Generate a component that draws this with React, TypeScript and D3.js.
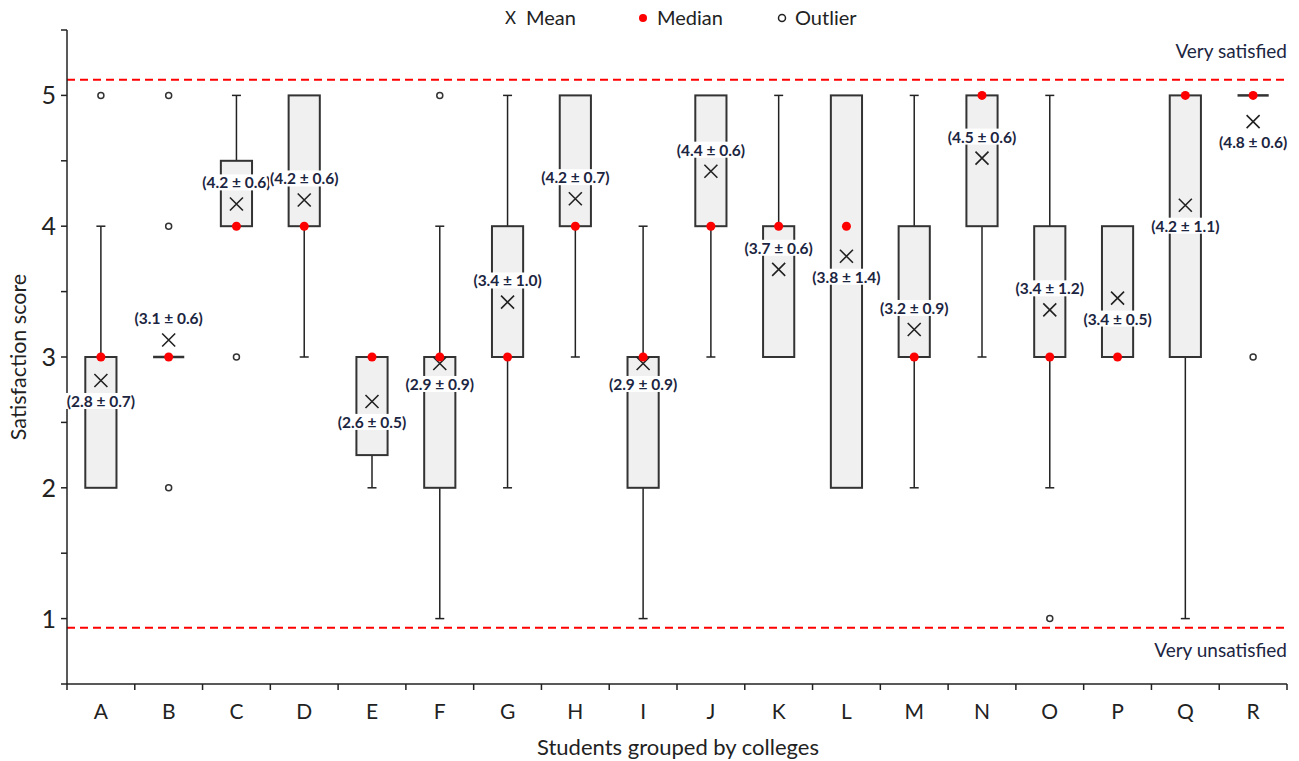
import React, { useRef, useLayoutEffect } from 'react';
import * as d3 from 'd3';

// colleges
const colleges = ['A', 'B', 'C', 'D', 'E', 'F', 'G', 'H', 'I', 'J', 'K', 'L', 'M', 'N', 'O', 'P', 'Q', 'R'];
// box stats per college
const whiskerLow = [2, 3, 4, 3, 2, 1, 2, 3, 1, 3, 3, 2, 2, 3, 2, 3, 1, 5];
const q1 = [2, 3, 4, 4, 2.25, 2, 3, 4, 2, 4, 3, 2, 3, 4, 3, 3, 3, 5];
const medians = [3, 3, 4, 4, 3, 3, 3, 4, 3, 4, 4, 4, 3, 5, 3, 3, 5, 5];
const q3 = [3, 3, 4.5, 5, 3, 3, 4, 5, 3, 5, 4, 5, 4, 5, 4, 4, 5, 5];
const whiskerHigh = [4, 3, 5, 5, 3, 4, 5, 5, 4, 5, 5, 5, 5, 5, 5, 4, 5, 5];
const means = [2.82, 3.13, 4.17, 4.2, 2.66, 2.95, 3.42, 4.21, 2.95, 4.42, 3.67, 3.77, 3.21, 4.52, 3.36, 3.45, 4.16, 4.8];
const meanLabels = ['2.8 ± 0.7', '3.1 ± 0.6', '4.2 ± 0.6', '4.2 ± 0.6', '2.6 ± 0.5', '2.9 ± 0.9', '3.4 ± 1.0', '4.2 ± 0.7', '2.9 ± 0.9',
    '4.4 ± 0.6', '3.7 ± 0.6', '3.8 ± 1.4', '3.2 ± 0.9', '4.5 ± 0.6', '3.4 ± 1.2', '3.4 ± 0.5', '4.2 ± 1.1', '4.8 ± 0.6'];
const labelSide = ['below', 'above', 'above', 'above', 'below', 'below', 'above', 'above', 'below',
    'above', 'above', 'below', 'above', 'above', 'above', 'below', 'below', 'below'];
const outliers = [[5], [5, 4, 2], [3], [], [], [5], [], [], [], [], [], [], [], [], [1], [], [], [3]];
// reference lines
const verySatisfied = 5.12;
const veryUnsatisfied = 0.93;
const yTicks = [0.5, 1, 1.5, 2, 2.5, 3, 3.5, 4, 4.5, 5, 5.5];

const FONT = 'Lato, "Open Sans", sans-serif';

const App = () => {
    const ref = useRef(null);

    useLayoutEffect(() => {
        document.body.style.margin = '0';
        const svg = d3.select(ref.current);
        svg.selectAll('*').remove();

        const left = 67, right = 1287, top = 30, bottom = 684;
        const x = d3.scaleBand().domain(colleges).range([left, right]).padding(0);
        const y = d3.scaleLinear().domain([0.5, 5.5]).range([bottom, top]);
        const boxW = x.bandwidth() * 0.46;
        const capW = 9;
        const ink = '#222';

        // reference lines
        [verySatisfied, veryUnsatisfied].forEach(v => {
            svg.append('line')
                .attr('x1', left).attr('x2', right)
                .attr('y1', y(v)).attr('y2', y(v))
                .attr('stroke', '#f00').attr('stroke-width', 2)
                .attr('stroke-dasharray', '8,5');
        });
        svg.append('text').attr('x', right).attr('y', y(verySatisfied) - 22)
            .attr('text-anchor', 'end').attr('font-family', FONT).attr('font-size', 19)
            .attr('fill', '#1c2541').text('Very satisfied');
        svg.append('text').attr('x', right).attr('y', y(veryUnsatisfied) + 29)
            .attr('text-anchor', 'end').attr('font-family', FONT).attr('font-size', 19)
            .attr('fill', '#1c2541').text('Very unsatisfied');

        // axes
        svg.append('line').attr('x1', left).attr('x2', left).attr('y1', top).attr('y2', bottom)
            .attr('stroke', ink).attr('stroke-width', 1.5);
        svg.append('line').attr('x1', left).attr('x2', right).attr('y1', bottom).attr('y2', bottom)
            .attr('stroke', ink).attr('stroke-width', 1.5);
        yTicks.forEach(t => {
            svg.append('line').attr('x1', left - 6).attr('x2', left).attr('y1', y(t)).attr('y2', y(t))
                .attr('stroke', ink).attr('stroke-width', 1.5);
            if (Number.isInteger(t)) {
                svg.append('text').attr('x', left - 11).attr('y', y(t)).attr('dy', '0.36em')
                    .attr('text-anchor', 'end').attr('font-family', FONT).attr('font-size', 25)
                    .attr('fill', ink).text(t);
            }
        });
        const bounds = colleges.map(c => x(c)).concat([right]);
        bounds.forEach(b => {
            svg.append('line').attr('x1', b).attr('x2', b).attr('y1', bottom).attr('y2', bottom + 6)
                .attr('stroke', ink).attr('stroke-width', 1.5);
        });
        colleges.forEach(c => {
            svg.append('text').attr('x', x(c) + x.bandwidth() / 2).attr('y', bottom + 35)
                .attr('text-anchor', 'middle').attr('font-family', FONT).attr('font-size', 21)
                .attr('fill', ink).text(c);
        });

        // axis titles
        svg.append('text').attr('x', 678).attr('y', 755)
            .attr('text-anchor', 'middle').attr('font-family', FONT).attr('font-size', 22)
            .attr('fill', ink).text('Students grouped by colleges');
        svg.append('text').attr('transform', `translate(26,${(top + bottom) / 2}) rotate(-90)`)
            .attr('text-anchor', 'middle').attr('font-family', FONT).attr('font-size', 21.5)
            .attr('fill', ink).text('Satisfaction score');

        // boxes
        colleges.forEach((c, i) => {
            const cx = x(c) + x.bandwidth() / 2;
            const g = svg.append('g');
            // whiskers
            if (whiskerHigh[i] > q3[i]) {
                g.append('line').attr('x1', cx).attr('x2', cx).attr('y1', y(q3[i])).attr('y2', y(whiskerHigh[i]))
                    .attr('stroke', ink).attr('stroke-width', 1.5);
                g.append('line').attr('x1', cx - capW / 2).attr('x2', cx + capW / 2)
                    .attr('y1', y(whiskerHigh[i])).attr('y2', y(whiskerHigh[i]))
                    .attr('stroke', ink).attr('stroke-width', 1.5);
            }
            if (whiskerLow[i] < q1[i]) {
                g.append('line').attr('x1', cx).attr('x2', cx).attr('y1', y(q1[i])).attr('y2', y(whiskerLow[i]))
                    .attr('stroke', ink).attr('stroke-width', 1.5);
                g.append('line').attr('x1', cx - capW / 2).attr('x2', cx + capW / 2)
                    .attr('y1', y(whiskerLow[i])).attr('y2', y(whiskerLow[i]))
                    .attr('stroke', ink).attr('stroke-width', 1.5);
            }
            if (q3[i] > q1[i]) {
                g.append('rect').attr('x', cx - boxW / 2).attr('width', boxW)
                    .attr('y', y(q3[i])).attr('height', y(q1[i]) - y(q3[i]))
                    .attr('fill', '#f0f0f0').attr('stroke', '#333').attr('stroke-width', 2);
            } else {
                g.append('line').attr('x1', cx - boxW / 2).attr('x2', cx + boxW / 2)
                    .attr('y1', y(q1[i])).attr('y2', y(q1[i]))
                    .attr('stroke', '#333').attr('stroke-width', 2.5);
            }
            // outliers
            outliers[i].forEach(o => {
                g.append('circle').attr('cx', cx).attr('cy', y(o)).attr('r', 3)
                    .attr('fill', '#fff').attr('stroke', '#333').attr('stroke-width', 1.5);
            });
            // mean
            const my = y(means[i]);
            const s = 6.5;
            g.append('path').attr('d', `M${cx - s},${my - s}L${cx + s},${my + s}M${cx - s},${my + s}L${cx + s},${my - s}`)
                .attr('stroke', ink).attr('stroke-width', 1.6).attr('fill', 'none');
            // median
            g.append('circle').attr('cx', cx).attr('cy', y(medians[i])).attr('r', 4.5).attr('fill', '#f00');
            // label
            const ly = labelSide[i] === 'above' ? my - 21 : my + 21;
            const txt = g.append('text').attr('x', cx).attr('y', ly).attr('dy', '0.35em')
                .attr('text-anchor', 'middle').attr('font-family', FONT).attr('font-size', 15.5)
                .attr('font-weight', 'bold').attr('fill', '#1c2541').text(`(${meanLabels[i]})`);
            const bb = txt.node().getBBox();
            g.insert('rect', 'text').attr('x', bb.x - 1).attr('y', bb.y + 1).attr('width', bb.width + 2)
                .attr('height', bb.height - 2).attr('fill', '#fff');
        });

        // legend
        const legendY = 18;
        svg.append('text').attr('x', 505).attr('y', legendY).attr('dy', '0.36em')
            .attr('font-family', FONT).attr('font-size', 17).attr('fill', ink).text('X');
        svg.append('text').attr('x', 526).attr('y', legendY).attr('dy', '0.36em')
            .attr('font-family', FONT).attr('font-size', 20).attr('fill', ink).text('Mean');
        svg.append('circle').attr('cx', 643).attr('cy', legendY).attr('r', 4).attr('fill', '#f00');
        svg.append('text').attr('x', 657).attr('y', legendY).attr('dy', '0.36em')
            .attr('font-family', FONT).attr('font-size', 20).attr('fill', ink).text('Median');
        svg.append('circle').attr('cx', 782).attr('cy', legendY).attr('r', 3.5)
            .attr('fill', '#fff').attr('stroke', ink).attr('stroke-width', 1.5);
        svg.append('text').attr('x', 795).attr('y', legendY).attr('dy', '0.36em')
            .attr('font-family', FONT).attr('font-size', 20).attr('fill', ink).text('Outlier');
    }, []);

    return (
        <svg ref={ref} width={1299} height={761} style={{ display: 'block', background: '#fff' }}></svg>
    );
};

export default App;
